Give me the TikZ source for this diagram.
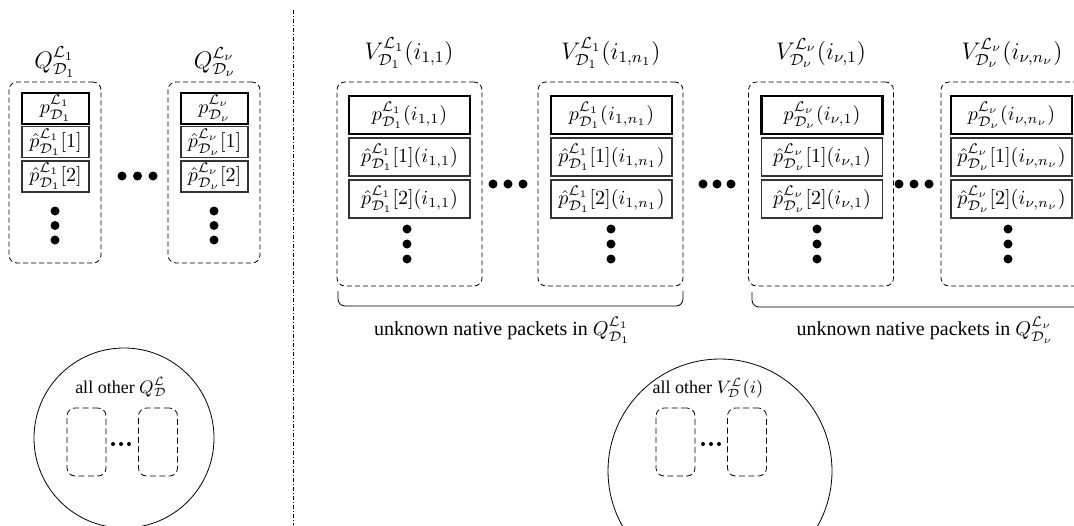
\documentclass[tikz,border=0pt]{standalone}
\usepackage{amsmath, amssymb}
\usepackage{fontspec}
\setmainfont{Liberation Serif}

\begin{document}
\begin{tikzpicture}[x = 0.5pt, y = -0.5pt]
	\tikzstyle{groupStyle} = [draw, dash pattern = on 2.5pt off 1.5pt, rounded corners = 4pt, inner sep = 0pt]
	\tikzstyle{smallGroupStyle} = [draw, dash pattern = on 3pt off 1.7pt, rounded corners = 4pt, inner sep = 0pt, minimum width = 19.5pt, minimum height = 34pt]
	\tikzstyle{topStyle} = [shape = rectangle, draw, line width = 1.4pt, inner sep = 0pt]
	\tikzstyle{hatStyle} = [shape = rectangle, draw = black!80, line width = 0.6pt, inner sep = 0pt]
	\tikzstyle{qStyle} = [minimum width = 33.5pt, minimum height = 15.5pt]
	\tikzstyle{vStyle} = [minimum width = 60.5pt, minimum height = 19pt]
	\tikzstyle{titleStyle} = [font = \large]
	\tikzstyle{otherStyle} = [font = \small]
	\useasboundingbox (0,0) rectangle (1074,525);
	\clip (0,0) rectangle (1074,525);
	% left part: the queues
	\node[style = titleStyle] (tq1) at (55,62) {$Q^{\mathcal{L}_1}_{\mathcal{D}_1}$};
	\node[style = titleStyle] (tq2) at (215,62) {$Q^{\mathcal{L}_\nu}_{\mathcal{D}_\nu}$};
	\node[style = groupStyle, minimum width = 46pt, minimum height = 90.5pt] (gq1) at (55,172.5) {};
	\node[style = groupStyle, minimum width = 46pt, minimum height = 90.5pt] (gq2) at (214,172.5) {};
	\node[style = topStyle, qStyle] (q1p) at (55.5,108.5) {$p^{\mathcal{L}_1}_{\mathcal{D}_1}$};
	\node[style = hatStyle, qStyle] (q1a) at (55.5,142) {$\hat{p}^{\mathcal{L}_1}_{\mathcal{D}_1}[1]$};
	\node[style = hatStyle, qStyle] (q1b) at (55.5,176.5) {$\hat{p}^{\mathcal{L}_1}_{\mathcal{D}_1}[2]$};
	\node[style = topStyle, qStyle] (q2p) at (214.5,108.5) {$p^{\mathcal{L}_\nu}_{\mathcal{D}_\nu}$};
	\node[style = hatStyle, qStyle] (q2a) at (214.5,142) {$\hat{p}^{\mathcal{L}_\nu}_{\mathcal{D}_\nu}[1]$};
	\node[style = hatStyle, qStyle] (q2b) at (214.5,176.5) {$\hat{p}^{\mathcal{L}_\nu}_{\mathcal{D}_\nu}[2]$};
	\fill (55,211) circle (4.5) (55,225.5) circle (4.5) (55,240) circle (4.5);
	\fill (214,211) circle (4.5) (214,225.5) circle (4.5) (214,240) circle (4.5);
	\fill (122,176) circle (4.5) (137.5,176) circle (4.5) (153,176) circle (4.5);
	% separator
	\draw[dash pattern = on 2pt off 1pt on 0.5pt off 1pt] (293,10) -- (293,525);
	% right part: the virtual queues
	\node[style = titleStyle] (tv1) at (409,53) {$V^{\mathcal{L}_1}_{\mathcal{D}_1}(i_{1,1})$};
	\node[style = titleStyle] (tv2) at (611,53) {$V^{\mathcal{L}_1}_{\mathcal{D}_1}(i_{1,n_1})$};
	\node[style = titleStyle] (tv3) at (821,53) {$V^{\mathcal{L}_\nu}_{\mathcal{D}_\nu}(i_{\nu,1})$};
	\node[style = titleStyle] (tv4) at (1012,53) {$V^{\mathcal{L}_\nu}_{\mathcal{D}_\nu}(i_{\nu,n_\nu})$};
	\node[style = groupStyle, minimum width = 72.5pt, minimum height = 102pt] (gv1) at (409.5,184) {};
	\node[style = groupStyle, minimum width = 72.5pt, minimum height = 102pt] (gv2) at (610.5,184) {};
	\node[style = groupStyle, minimum width = 72.5pt, minimum height = 102pt] (gv3) at (821,184) {};
	\node[style = groupStyle, minimum width = 72.5pt, minimum height = 102pt] (gv4) at (1013.5,184) {};
	\node[style = topStyle, vStyle] (v1p) at (409.5,115) {$p^{\mathcal{L}_1}_{\mathcal{D}_1}(i_{1,1})$};
	\node[style = hatStyle, vStyle] (v1a) at (409.5,157) {$\hat{p}^{\mathcal{L}_1}_{\mathcal{D}_1}[1](i_{1,1})$};
	\node[style = hatStyle, vStyle] (v1b) at (409.5,199) {$\hat{p}^{\mathcal{L}_1}_{\mathcal{D}_1}[2](i_{1,1})$};
	\node[style = topStyle, vStyle] (v2p) at (611.5,115) {$p^{\mathcal{L}_1}_{\mathcal{D}_1}(i_{1,n_1})$};
	\node[style = hatStyle, vStyle] (v2a) at (611.5,157) {$\hat{p}^{\mathcal{L}_1}_{\mathcal{D}_1}[1](i_{1,n_1})$};
	\node[style = hatStyle, vStyle] (v2b) at (611.5,199) {$\hat{p}^{\mathcal{L}_1}_{\mathcal{D}_1}[2](i_{1,n_1})$};
	\node[style = topStyle, vStyle] (v3p) at (822,115) {$p^{\mathcal{L}_\nu}_{\mathcal{D}_\nu}(i_{\nu,1})$};
	\node[style = hatStyle, vStyle] (v3a) at (822,157) {$\hat{p}^{\mathcal{L}_\nu}_{\mathcal{D}_\nu}[1](i_{\nu,1})$};
	\node[style = hatStyle, vStyle] (v3b) at (822,199) {$\hat{p}^{\mathcal{L}_\nu}_{\mathcal{D}_\nu}[2](i_{\nu,1})$};
	\node[style = topStyle, vStyle] (v4p) at (1011.5,115) {$p^{\mathcal{L}_\nu}_{\mathcal{D}_\nu}(i_{\nu,n_\nu})$};
	\node[style = hatStyle, vStyle] (v4a) at (1011.5,157) {$\hat{p}^{\mathcal{L}_\nu}_{\mathcal{D}_\nu}[1](i_{\nu,n_\nu})$};
	\node[style = hatStyle, vStyle] (v4b) at (1011.5,199) {$\hat{p}^{\mathcal{L}_\nu}_{\mathcal{D}_\nu}[2](i_{\nu,n_\nu})$};
	\fill (407,229) circle (4.5) (407,244) circle (4.5) (407,259) circle (4.5);
	\fill (611,229) circle (4.5) (611,244) circle (4.5) (611,259) circle (4.5);
	\fill (817,229) circle (4.5) (817,244) circle (4.5) (817,259) circle (4.5);
	\fill (1008,229) circle (4.5) (1008,244) circle (4.5) (1008,259) circle (4.5);
	\fill (493,184) circle (4.5) (508,184) circle (4.5) (523,184) circle (4.5);
	\fill (703,184) circle (4.5) (717,184) circle (4.5) (731,184) circle (4.5);
	\fill (899,184) circle (4.5) (914,184) circle (4.5) (929,184) circle (4.5);
	% brackets under the virtual queues
	\draw[rounded corners = 3.5pt] (338,291) -- (338,306) -- (683,306) -- (683,291);
	\draw[rounded corners = 3.5pt] (752,292) -- (752,307) -- (1090,307) -- (1090,292);
	\node (b1) at (502,330) {unknown native packets in $Q^{\mathcal{L}_1}_{\mathcal{D}_1}$};
	\node (b2) at (925,330) {unknown native packets in $Q^{\mathcal{L}_\nu}_{\mathcal{D}_\nu}$};
	% the circles with all other queues
	\draw (124,438) circle (90);
	\node[style = otherStyle] (c1) at (121,387) {all other $Q^{\mathcal{L}}_{\mathcal{D}}$};
	\node[style = smallGroupStyle] (c1a) at (86.5,442) {};
	\node[style = smallGroupStyle] (c1b) at (158,442) {};
	\fill (113,444) circle (2) (121,444) circle (2) (129,444) circle (2);
	\draw (720,471) circle (112);
	\node[style = otherStyle] (c2) at (708,388) {all other $V^{\mathcal{L}}_{\mathcal{D}}(i)$};
	\node[style = smallGroupStyle] (c2a) at (675.5,442) {};
	\node[style = smallGroupStyle] (c2b) at (747,442) {};
	\fill (703,444) circle (2) (711,444) circle (2) (719,444) circle (2);
\end{tikzpicture}
\end{document}
